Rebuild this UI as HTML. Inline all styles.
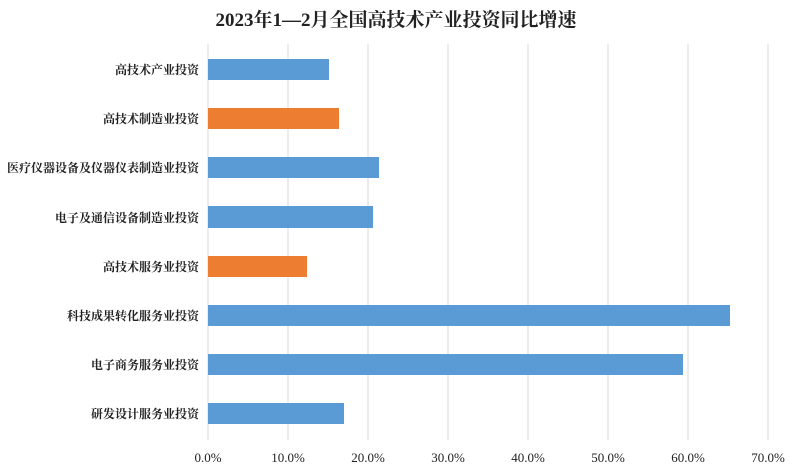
<html><head><style>
body{margin:0;width:792px;height:474px;background:#fff;overflow:hidden}
svg text{font-family:"Liberation Serif","Noto Serif CJK SC",serif;fill:#222}
</style></head><body>
<svg width="792" height="474" xmlns="http://www.w3.org/2000/svg">
<text x="396" y="26" text-anchor="middle" font-size="19" font-weight="bold" fill="#111">2023年1—2月全国高技术产业投资同比增速</text>
<g stroke="#d9d9d9" stroke-width="1">
<line x1="208" y1="44" x2="208" y2="440"/><line x1="288" y1="44" x2="288" y2="440"/><line x1="368" y1="44" x2="368" y2="440"/><line x1="448" y1="44" x2="448" y2="440"/><line x1="528" y1="44" x2="528" y2="440"/><line x1="608" y1="44" x2="608" y2="440"/><line x1="688" y1="44" x2="688" y2="440"/><line x1="768" y1="44" x2="768" y2="440"/>
</g>
<g fill="#5b9bd5">
<rect x="208" y="59" width="121" height="21"/>
<rect x="208" y="108" width="131" height="21" fill="#ed7d31"/>
<rect x="208" y="157" width="171" height="21"/>
<rect x="208" y="206" width="165" height="22"/>
<rect x="208" y="256" width="99" height="21" fill="#ed7d31"/>
<rect x="208" y="305" width="522" height="21"/>
<rect x="208" y="354" width="475" height="21"/>
<rect x="208" y="403" width="136" height="21"/>
</g>
<g font-size="12" font-weight="bold" text-anchor="end">
<text x="199" y="74">高技术产业投资</text>
<text x="199" y="123">高技术制造业投资</text>
<text x="199" y="172">医疗仪器设备及仪器仪表制造业投资</text>
<text x="199" y="222">电子及通信设备制造业投资</text>
<text x="199" y="271">高技术服务业投资</text>
<text x="199" y="320">科技成果转化服务业投资</text>
<text x="199" y="369">电子商务服务业投资</text>
<text x="199" y="418">研发设计服务业投资</text>
</g>
<g font-size="13" text-anchor="middle">
<text x="208" y="462">0.0%</text><text x="288" y="462">10.0%</text><text x="368" y="462">20.0%</text><text x="448" y="462">30.0%</text><text x="528" y="462">40.0%</text><text x="608" y="462">50.0%</text><text x="688" y="462">60.0%</text><text x="768" y="462">70.0%</text>
</g>
</svg>
</body></html>
